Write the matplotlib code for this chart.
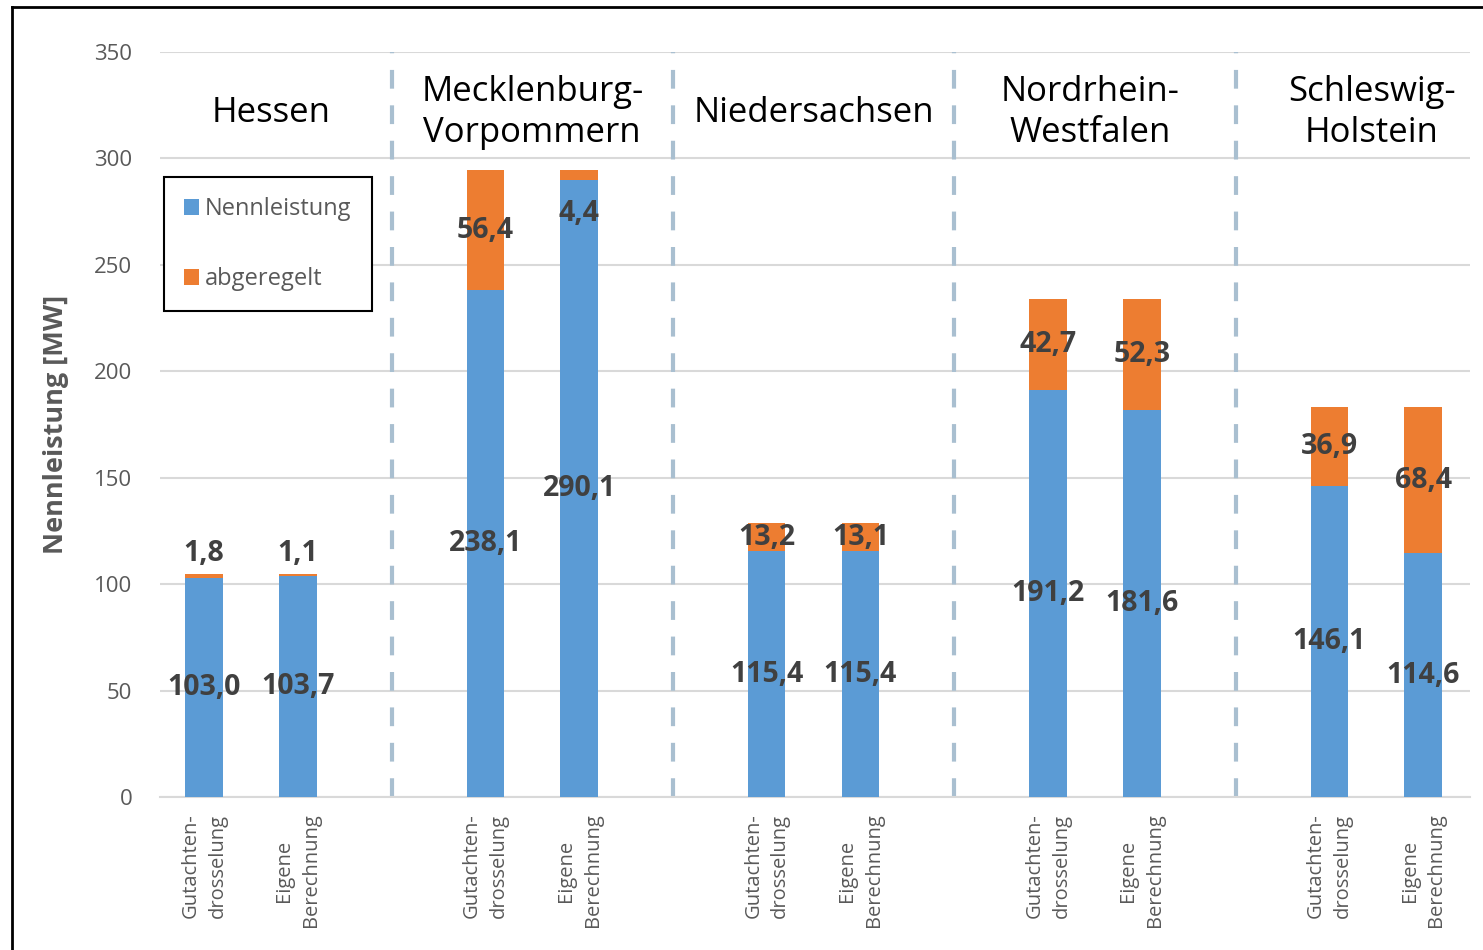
import matplotlib.pyplot as plt
from matplotlib.lines import Line2D
import numpy as np

plt.rcParams['font.family'] = ['Open Sans', 'DejaVu Sans']

laender = ["Hessen", "Mecklenburg-\nVorpommern", "Niedersachsen",
           "Nordrhein-\nWestfalen", "Schleswig-\nHolstein"]
varianten = ["Gutachten-\ndrosselung", "Eigene\nBerechnung"]

# je Land: Gutachtendrosselung, Eigene Berechnung
nennleistung = [103.0, 103.7, 238.1, 290.1, 115.4, 115.4, 191.2, 181.6, 146.1, 114.6]
abgeregelt = [1.8, 1.1, 56.4, 4.4, 13.2, 13.1, 42.7, 52.3, 36.9, 68.4]

blau = "#5B9BD5"
orange = "#ED7D31"
grau = "#595959"
text_dunkel = "#404040"

# zwei Balken pro Land, dazwischen eine leere Position
x = np.array([3 * (i // 2) + (i % 2) for i in range(len(nennleistung))])
nl = np.array(nennleistung)
ab = np.array(abgeregelt)

fig = plt.figure(figsize=(14.83, 9.5), dpi=100)
ax = fig.add_axes([160 / 1483, 153 / 950, 1310 / 1483, 745 / 950])

ax.bar(x, nl, width=0.4, color=blau, label="Nennleistung", zorder=3)
ax.bar(x, ab, width=0.4, bottom=nl, color=orange, label="abgeregelt", zorder=3)

ax.set_ylim(0, 350)
ax.set_xlim(-0.47, 13.5)
ax.set_yticks(range(0, 351, 50))
ax.yaxis.grid(True, color="#D9D9D9", lw=1.5, zorder=0)
ax.set_axisbelow(True)
for s in ["top", "right", "left"]:
    ax.spines[s].set_visible(False)
ax.spines["bottom"].set_color("#D9D9D9")
ax.spines["bottom"].set_linewidth(1.5)
ax.tick_params(axis="both", length=0)
ax.tick_params(axis="y", labelsize=16, labelcolor=grau, pad=20)

ax.set_xticks(x)
ax.set_xticklabels([varianten[i % 2] for i in range(len(x))], rotation=90,
                   fontsize=14.5, color=grau, ha="center", va="top",
                   multialignment="center", linespacing=1.45)
ax.tick_params(axis="x", pad=12)

ax.set_ylabel("Nennleistung [MW]", fontsize=19.5, fontweight="bold",
              color=grau, labelpad=18)

# gestrichelte Trennlinien zwischen den Ländern
for t in [2, 5, 8, 11]:
    ax.axvline(t, color="#A9BFD0", lw=3, ls=(0, (4.5, 4)), zorder=1)

titel_x = [0.72, 3.5, 6.5, 9.45, 12.45]
for tx, name in zip(titel_x, laender):
    ax.text(tx, 321.5, name, ha="center", va="center", fontsize=25,
            color="black", linespacing=1.25)

lab = dict(ha="center", va="center", fontsize=20.5, fontweight="bold",
           color=text_dunkel, zorder=5)

def fmt(v):
    return f"{v:.1f}".replace(".", ",")

for xi, n in zip(x, nl):
    ax.annotate(fmt(n), (xi, n / 2), **lab)

# kleine Segmente: Beschriftung über bzw. unter dem Balkenende
versatz = {0: 15, 1: 15, 3: -31}
for i, (xi, n, a) in enumerate(zip(x, nl, ab)):
    if i in versatz:
        ax.annotate(fmt(a), (xi, n + a), xytext=(0, versatz[i]),
                    textcoords="offset points", **lab)
    else:
        ax.annotate(fmt(a), (xi, n + a / 2), **lab)

leg = ax.legend(loc="upper left", bbox_to_anchor=(0.003, 0.832),
                borderaxespad=0, fontsize=17, frameon=True, fancybox=False,
                edgecolor="black", framealpha=1, labelspacing=1.95,
                handlelength=0.65, handleheight=0.65, handletextpad=0.25,
                borderpad=0.85)
leg.get_frame().set_linewidth(1.5)
for t in leg.get_texts():
    t.set_color(grau)

# Rahmen um das Diagramm
x0 = 12 / 1483
y0 = 1 - 7 / 950
fig.add_artist(Line2D([x0, x0], [0, y0], color="black", lw=2))
fig.add_artist(Line2D([x0, 1], [y0, y0], color="black", lw=2))

fig.savefig("out.png", dpi=100)
